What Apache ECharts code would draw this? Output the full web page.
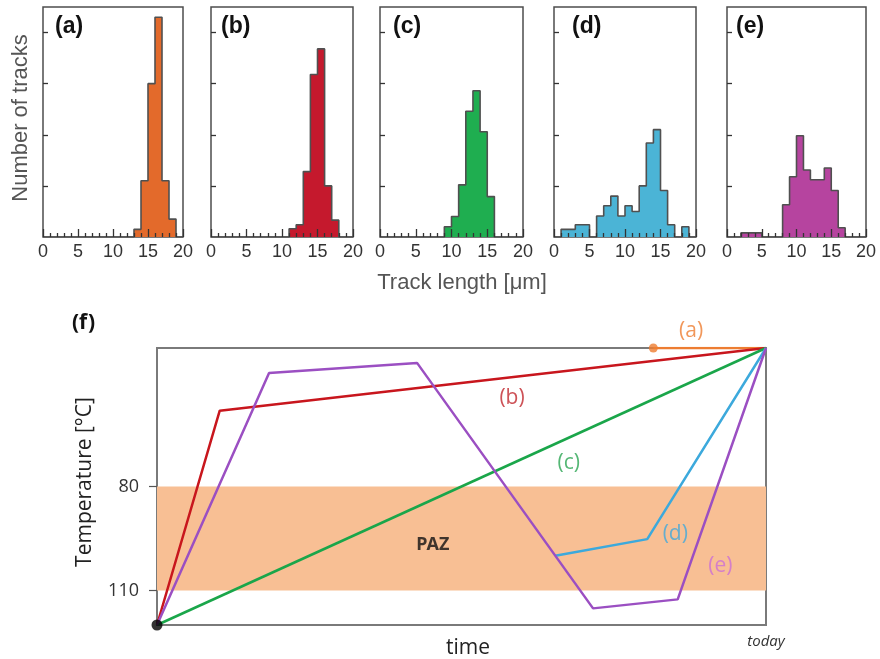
<!DOCTYPE html>
<html>
<head>
<meta charset="utf-8">
<script src="https://cdn.jsdelivr.net/npm/echarts@6/dist/echarts.min.js"></script>
<style>
  html, body { margin: 0; padding: 0; background: #fff; }
  #chart { width: 880px; height: 659px; }
</style>
</head>
<body>
<div id="chart"></div>
<script>
// ---- Track-length histograms: 1 µm bins from 0 to 20 µm ----
const binEdges = [0,1,2,3,4,5,6,7,8,9,10,11,12,13,14,15,16,17,18,19,20];
const histA = [0,0,0,0,0,0,0,0,0,0,0,0,0,0.15,1.1,3.0,4.3,1.1,0.35,0];
const histB = [0,0,0,0,0,0,0,0,0,0,0,0.16,0.24,1.28,3.18,3.68,1.0,0.33,0,0];
const histC = [0,0,0,0,0,0,0,0,0,0.2,0.4,1.02,2.46,2.86,2.06,0.79,0,0,0,0];
const histD = [0,0.15,0.15,0.24,0.24,0,0.41,0.61,0.8,0.41,0.61,0.5,1.0,1.84,2.1,0.91,0.24,0,0.2,0];
const histE = [0,0,0.08,0.08,0.08,0,0,0,0.63,1.18,1.98,1.31,1.12,1.12,1.35,0.91,0.18,0,0,0];
const histNames = ['(a)', '(b)', '(c)', '(d)', '(e)'];
const lengthTicks = [0, 5, 10, 15, 20];
const countTicks = [1, 2, 3, 4];

// ---- Thermal histories (time 0..100 = today, temperature in °C) ----
const pathA = [[81.5, 40], [100, 40]];
const pathB = [[0, 120], [10.3, 58.1], [100, 40]];
const pathC = [[0, 120], [100, 40]];
const pathD = [[65.4, 100], [80.5, 95.2], [100, 40]];
const pathE = [[0, 120], [18.4, 47.2], [42.7, 44.3], [71.6, 115.2], [85.5, 112.6], [100, 40]];
const startPoint = [0, 120];
const pazBand = [80, 110];
const tempTicks = [80, 110];
const pathLabelText = ['(a)', '(b)', '(c)', '(d)', '(e)'];
const pathLabelPos = [[87.7, 35.2], [58.3, 54.4], [67.6, 73.2], [85.1, 93.6], [92.5, 103.1]];
const pazLabelPos = [45.3, 96.9];

// ---- styling ----
const histColors = ['#e36a2b', '#c5192d', '#1fae50', '#4bb4d6', '#b6449f'];
const pathColors = ['#ed7d31', '#c8161d', '#1aa64a', '#3ca9dc', '#9b4fc2'];
const pathLabelColors = ['#ed7d31', '#c0272d', '#2aa552', '#41a9dc', '#cc6fd6'];
const histLeft = [43, 211, 380, 554, 727];
const histWidth = [140, 142, 143, 142, 139];
const histLabelLeft = [55, 221, 393, 572, 736];
const sansHist = 'Liberation Sans, Arial, sans-serif';
const sansF = 'Open Sans, sans-serif';
const tickColor = '#333';

function stepOutline(counts) {
  const pts = [[binEdges[0], 0]];
  counts.forEach((c, i) => { pts.push([binEdges[i], c], [binEdges[i + 1], c]); });
  pts.push([binEdges[binEdges.length - 1], 0]);
  return pts;
}

const hists = [histA, histB, histC, histD, histE];
const grids = [], xAxes = [], yAxes = [], series = [], titles = [];

hists.forEach((h, i) => {
  grids.push({
    left: histLeft[i], top: 7, width: histWidth[i], height: 230,
    show: true, borderColor: '#4d4d4d', borderWidth: 1.5, backgroundColor: 'transparent'
  });
  xAxes.push({
    gridIndex: i, type: 'value', min: 0, max: 20, interval: 5, z: 5,
    axisLine: { show: false }, splitLine: { show: false },
    axisTick: { inside: true, length: 8, lineStyle: { color: tickColor, width: 1.3 } },
    minorTick: { show: true, splitNumber: 5, length: 4, lineStyle: { color: tickColor, width: 1.3 } },
    axisLabel: { customValues: lengthTicks, fontSize: 18, color: '#333', margin: 6, fontFamily: sansHist }
  });
  yAxes.push({
    gridIndex: i, type: 'value', min: 0, max: 4.5, z: 5,
    axisLine: { show: false }, splitLine: { show: false },
    axisLabel: { show: false },
    axisTick: { show: true, inside: true, length: 5, customValues: countTicks,
                lineStyle: { color: tickColor, width: 1.3 } }
  });
  series.push({
    type: 'line', xAxisIndex: i, yAxisIndex: i, data: stepOutline(h),
    symbol: 'none', z: 2, silent: true,
    lineStyle: { color: '#505050', width: 1.6 },
    areaStyle: { color: histColors[i], opacity: 1 }
  });
  titles.push({
    text: histNames[i], left: histLabelLeft[i], top: 15, padding: 0,
    textStyle: { fontSize: 23, fontWeight: 'bold', color: '#111', fontFamily: sansHist }
  });
});

// ---- (f) temperature-time panel ----
const F = 5;
grids.push({
  left: 157, top: 348, width: 609, height: 277,
  show: true, borderColor: '#7a7a7a', borderWidth: 2, backgroundColor: 'transparent'
});
xAxes.push({
  gridIndex: F, type: 'value', min: 0, max: 100,
  axisLine: { show: false }, splitLine: { show: false }, axisTick: { show: false },
  axisLabel: { customValues: [100], formatter: () => 'today', fontStyle: 'italic',
               fontSize: 15, color: '#333', margin: 9, fontFamily: sansF }
});
yAxes.push({
  gridIndex: F, type: 'value', inverse: true, min: 40, max: 120,
  axisLine: { show: false }, splitLine: { show: false },
  axisTick: { show: true, customValues: tempTicks, length: 8, lineStyle: { color: '#555', width: 1.2 } },
  axisLabel: { customValues: tempTicks, fontSize: 18, color: '#333', margin: 18, fontFamily: sansF }
});

series.push({
  type: 'line', xAxisIndex: F, yAxisIndex: F, data: [], z: 1, silent: true,
  markArea: {
    silent: true,
    itemStyle: { color: '#f8bf94', opacity: 1 },
    data: [[{ yAxis: pazBand[0] }, { yAxis: pazBand[1] }]]
  }
});

[pathA, pathB, pathC, pathD, pathE].forEach((p, i) => {
  series.push({
    type: 'line', xAxisIndex: F, yAxisIndex: F, data: p, z: 3, silent: true,
    symbol: 'none', lineStyle: { color: pathColors[i], width: 2.5 }
  });
});

// end dot of path (a) and the common starting point
series.push({
  type: 'scatter', xAxisIndex: F, yAxisIndex: F, z: 4, clip: false, silent: true,
  data: [
    { value: pathA[0], symbolSize: 9, itemStyle: { color: pathColors[0] } },
    { value: startPoint, symbolSize: 11, itemStyle: { color: '#000' } }
  ]
});

// path names and the PAZ label
series.push({
  type: 'scatter', xAxisIndex: F, yAxisIndex: F, z: 5, clip: false, silent: true,
  symbolSize: 0,
  data: pathLabelText.map((t, i) => ({
    value: pathLabelPos[i], name: t,
    label: { color: pathLabelColors[i] }
  })).concat([{
    value: pazLabelPos, name: 'PAZ',
    label: { color: '#111', fontWeight: 'bold', fontSize: 18, fontFamily: 'Noto Sans, sans-serif' }
  }]),
  label: {
    show: true, position: 'inside', formatter: (d) => d.name,
    fontSize: 21, fontFamily: sansF
  }
});

titles.push({
  text: '(f)', left: 72, top: 313, padding: 0,
  textStyle: { fontSize: 21, fontWeight: 'bold', color: '#111', fontFamily: 'Noto Sans, sans-serif' }
});

const chart = echarts.init(document.getElementById('chart'), null, { renderer: 'canvas' });
chart.setOption({
  animation: false,
  backgroundColor: '#fff',
  title: titles,
  grid: grids,
  xAxis: xAxes,
  yAxis: yAxes,
  series: series,
  graphic: [
    { type: 'text', x: 21, y: 118, rotation: Math.PI / 2,
      style: { text: 'Number of tracks', fontSize: 22, fontFamily: sansHist, fill: '#555',
               align: 'center', verticalAlign: 'middle' } },
    { type: 'text', x: 462, y: 283,
      style: { text: 'Track length [μm]', fontSize: 22, fontFamily: sansHist, fill: '#555',
               align: 'center', verticalAlign: 'middle' } },
    { type: 'text', x: 85, y: 482, rotation: Math.PI / 2,
      style: { text: 'Temperature [°C]', fontSize: 21, fontFamily: sansF, fill: '#222',
               align: 'center', verticalAlign: 'middle' } },
    { type: 'text', x: 468, y: 648,
      style: { text: 'time', fontSize: 21, fontFamily: sansF, fill: '#222',
               align: 'center', verticalAlign: 'middle' } }
  ]
});
</script>
</body>
</html>
